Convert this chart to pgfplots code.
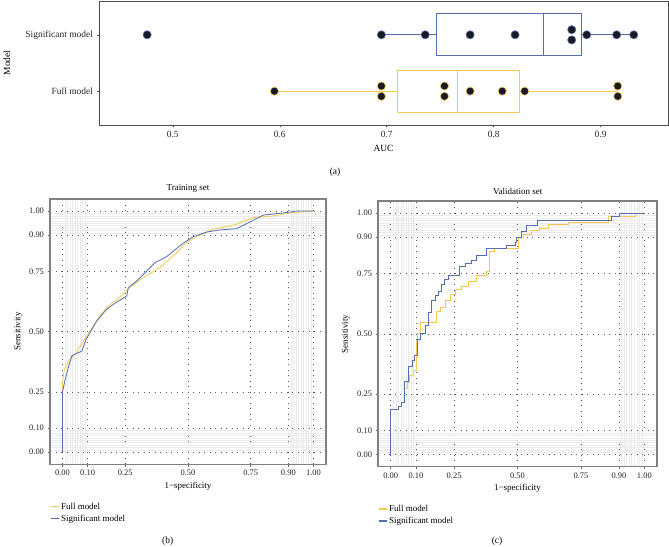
\documentclass[border=0pt]{standalone}
\usepackage{fontspec}
\setmainfont{Liberation Serif}
\usepackage{pgfplots}
\pgfplotsset{compat=1.18}
\usepgfplotslibrary{statistics}
\definecolor{cblue}{RGB}{84,110,176}
\definecolor{cyel}{RGB}{245,200,80}
\definecolor{dotfill}{RGB}{26,26,36}
\pgfplotsset{
  rocstyle/.style={
    scale only axis,
    xmin=-0.05,xmax=1.05,ymin=-0.05,ymax=1.05,
    xtick={0,0.1,0.25,0.5,0.75,0.9,1}, ytick={0,0.1,0.25,0.5,0.75,0.9,1},
    xticklabels={0.00,0.10,0.25,0.50,0.75,0.90,1.00},
    yticklabels={0.00,0.10,0.25,0.50,0.75,0.90,1.00},
    minor xtick={0.01,0.02,0.03,0.04,0.05,0.06,0.07,0.08,0.09,0.91,0.92,0.93,0.94,0.95,0.96,0.97,0.98,0.99},
    minor ytick={0.01,0.02,0.03,0.04,0.05,0.06,0.07,0.08,0.09,0.91,0.92,0.93,0.94,0.95,0.96,0.97,0.98,0.99},
    grid=both,
    major grid style={dash pattern=on 0.9bp off 4.6bp, color=black!65, line width=0.5bp},
    minor grid style={color=black!8, line width=0.35bp},
    axis line style={black!50, line width=1.2bp},
    tick style={black!60, line width=0.5bp},
    major tick length=2.5bp, minor tick length=0pt,
    tick align=outside, xtick pos=left, ytick pos=left,
    tick label style={font=\fontsize{8.5}{10}\selectfont, text=black!85},
    label style={font=\fontsize{9}{11}\selectfont},
    xlabel={1−specificity}, ylabel={Sensitivity},
    xlabel style={at={(axis description cs:0.5,-0.083)}, anchor=center},
    ylabel style={at={(axis description cs:-0.115,0.5)}, anchor=center},
    legend style={at={(axis description cs:0,-0.14)}, anchor=north west, draw=none, fill=none,
      font=\fontsize{9}{11}\selectfont, row sep=1bp, inner sep=0pt, nodes={inner sep=1.5bp}},
    legend cell align=left,
    legend image code/.code={\draw[#1, line width=1.4bp] (0bp,0.3bp) -- (8bp,0.3bp);},
  }
}
\begin{document}
\begin{tikzpicture}[x=1bp,y=1bp]
\useasboundingbox (0,0) rectangle (669,547);

% ---------- (a) boxplot ----------
\begin{axis}[
  at={(99bp,422bp)}, anchor=south west, scale only axis, width=569bp, height=124bp,
  xmin=0.431, xmax=0.963, ymin=0.4, ymax=2.6,
  xtick={0.5,0.6,0.7,0.8,0.9}, xticklabels={0.5,0.6,0.7,0.8,0.9},
  ytick={1,2}, yticklabels={Full model,Significant model},
  xtick pos=left, ytick pos=left, tick align=outside, major tick length=2.5bp,
  axis line style={black!70, line width=0.8bp}, tick style={black!70, line width=0.5bp},
  tick label style={font=\fontsize{9.5}{11}\selectfont, text=black!85},
  label style={font=\fontsize{9.5}{11}\selectfont},
  xlabel={AUC}, ylabel={Model},
  xlabel style={at={(axis description cs:0.5,-0.185)}, anchor=center},
  ylabel style={at={(axis description cs:-0.162,0.5)}, anchor=center},
  clip=false,
]
% whiskers
\addplot[cblue, line width=1.2bp] coordinates {(0.695,2) (0.7465,2)};
\addplot[cblue, line width=1.2bp] coordinates {(0.882,2) (0.931,2)};
\addplot[cyel, line width=1.3bp] coordinates {(0.595,1) (0.7098,1)};
\addplot[cyel, line width=1.3bp] coordinates {(0.824,1) (0.916,1)};
% boxes
\addplot[draw=cblue, line width=0.9bp,
  boxplot/every box/.style={draw=cblue, line width=0.9bp},
  boxplot/every whisker/.style={draw=none},
  boxplot/every median/.style={draw=cblue, line width=0.9bp},
  boxplot prepared={draw position=2, lower whisker=0.695, lower quartile=0.7465, median=0.8465, upper quartile=0.882, upper whisker=0.931, box extend=0.75, whisker extend=0}] coordinates {};
\addplot[draw=cyel, line width=0.9bp,
  boxplot/every box/.style={draw=cyel, line width=0.9bp},
  boxplot/every whisker/.style={draw=none},
  boxplot/every median/.style={draw=cyel, line width=0.9bp},
  boxplot prepared={draw position=1, lower whisker=0.595, lower quartile=0.7098, median=0.766, upper quartile=0.824, upper whisker=0.916, box extend=0.75, whisker extend=0}] coordinates {};
% dots
\addplot[only marks, mark=*, mark size=4.1bp, mark options={fill=dotfill, draw=cblue, line width=0.6bp}] coordinates {
(0.476,2) (0.695,2) (0.736,2) (0.778,2) (0.820,2) (0.873,1.909) (0.873,2.091) (0.887,2) (0.915,2) (0.931,2)};
\addplot[only marks, mark=*, mark size=4.1bp, mark options={fill=dotfill, draw=cyel, line width=0.6bp}] coordinates {
(0.595,1) (0.695,0.909) (0.695,1.091) (0.754,0.909) (0.754,1.091) (0.778,1) (0.808,1) (0.829,1) (0.916,0.909) (0.916,1.091)};
\end{axis}

% ---------- (b) training ROC ----------
\begin{axis}[rocstyle, at={(50bp,82.7bp)}, anchor=south west, width=276bp, height=265.3bp]
\addplot[cyel, line width=0.8bp] coordinates {
(0,0) (0,0.289) (0.007,0.344) (0.03,0.386) (0.057,0.413) (0.063,0.427) (0.096,0.482) (0.149,0.565) (0.176,0.60) (0.242,0.655) (0.276,0.69) (0.322,0.724) (0.389,0.766) (0.455,0.828) (0.495,0.87) (0.535,0.894) (0.601,0.925) (0.681,0.941) (0.76,0.973) (0.84,0.98) (0.92,0.994) (1,1)};
\addlegendentry{Full model}
\addplot[cblue, line width=0.8bp] coordinates {
(0,0) (0,0.25) (0.01,0.30) (0.023,0.351) (0.037,0.40) (0.077,0.42) (0.094,0.468) (0.136,0.544) (0.176,0.593) (0.209,0.618) (0.256,0.648) (0.262,0.683) (0.296,0.71) (0.336,0.752) (0.369,0.786) (0.415,0.811) (0.448,0.839) (0.475,0.862) (0.521,0.894) (0.575,0.913) (0.628,0.922) (0.694,0.927) (0.747,0.955) (0.80,0.983) (0.894,0.994) (0.933,1.0) (1,1)};
\addlegendentry{Significant model}
\end{axis}

% ---------- (c) validation ROC ----------
\begin{axis}[rocstyle, at={(378bp,80.3bp)}, anchor=south west, width=279bp, height=265.7bp]
\addplot[cyel, line width=0.8bp] coordinates {
(0,0) (0,0.188) (0.030,0.188) (0.030,0.20) (0.043,0.20) (0.043,0.217) (0.056,0.217) (0.056,0.275) (0.065,0.275) (0.065,0.30) (0.075,0.30) (0.075,0.33) (0.09,0.33) (0.09,0.35) (0.102,0.35) (0.102,0.47) (0.106,0.47) (0.106,0.502) (0.119,0.502) (0.119,0.547) (0.179,0.547) (0.179,0.592) (0.195,0.592) (0.195,0.61) (0.215,0.61) (0.215,0.64) (0.235,0.64) (0.235,0.662) (0.254,0.662) (0.254,0.683) (0.278,0.683) (0.278,0.697) (0.307,0.697) (0.307,0.718) (0.339,0.718) (0.339,0.74) (0.378,0.74) (0.378,0.757) (0.388,0.757) (0.388,0.84) (0.409,0.84) (0.409,0.854) (0.504,0.854) (0.504,0.90) (0.522,0.90) (0.522,0.91) (0.555,0.91) (0.555,0.928) (0.588,0.928) (0.588,0.938) (0.621,0.938) (0.621,0.952) (0.70,0.952) (0.70,0.962) (0.857,0.962) (0.857,0.985) (0.965,0.985) (0.965,1) (1,1)};
\addlegendentry{Full model}
\addplot[cblue, line width=0.8bp] coordinates {
(0,0) (0,0.188) (0.030,0.188) (0.030,0.20) (0.043,0.20) (0.043,0.217) (0.053,0.217) (0.053,0.302) (0.070,0.302) (0.070,0.364) (0.085,0.364) (0.085,0.39) (0.092,0.39) (0.092,0.41) (0.106,0.41) (0.106,0.475) (0.118,0.475) (0.118,0.50) (0.135,0.50) (0.135,0.537) (0.148,0.537) (0.148,0.59) (0.162,0.59) (0.162,0.64) (0.175,0.64) (0.175,0.66) (0.187,0.66) (0.187,0.675) (0.198,0.675) (0.198,0.706) (0.21,0.706) (0.21,0.725) (0.227,0.725) (0.227,0.74) (0.269,0.74) (0.269,0.78) (0.293,0.78) (0.293,0.79) (0.317,0.79) (0.317,0.805) (0.339,0.805) (0.339,0.823) (0.378,0.823) (0.378,0.854) (0.457,0.854) (0.457,0.868) (0.49,0.868) (0.49,0.878) (0.497,0.878) (0.497,0.90) (0.514,0.90) (0.514,0.926) (0.536,0.926) (0.536,0.95) (0.578,0.95) (0.578,0.971) (0.870,0.971) (0.870,0.985) (0.90,0.985) (0.90,1) (1,1)};
\addlegendentry{Significant model}
\end{axis}

\node[font=\fontsize{9}{11}\selectfont] at (188,358) {Training set};
\node[font=\fontsize{9}{11}\selectfont] at (517.7,355.3) {Validation set};
\node[font=\fontsize{9.5}{11}\selectfont] at (335,375) {(a)};
\node[font=\fontsize{9.5}{11}\selectfont] at (167.7,5.5) {(b)};
\node[font=\fontsize{9.5}{11}\selectfont] at (497,5.5) {(c)};
\end{tikzpicture}
\end{document}
